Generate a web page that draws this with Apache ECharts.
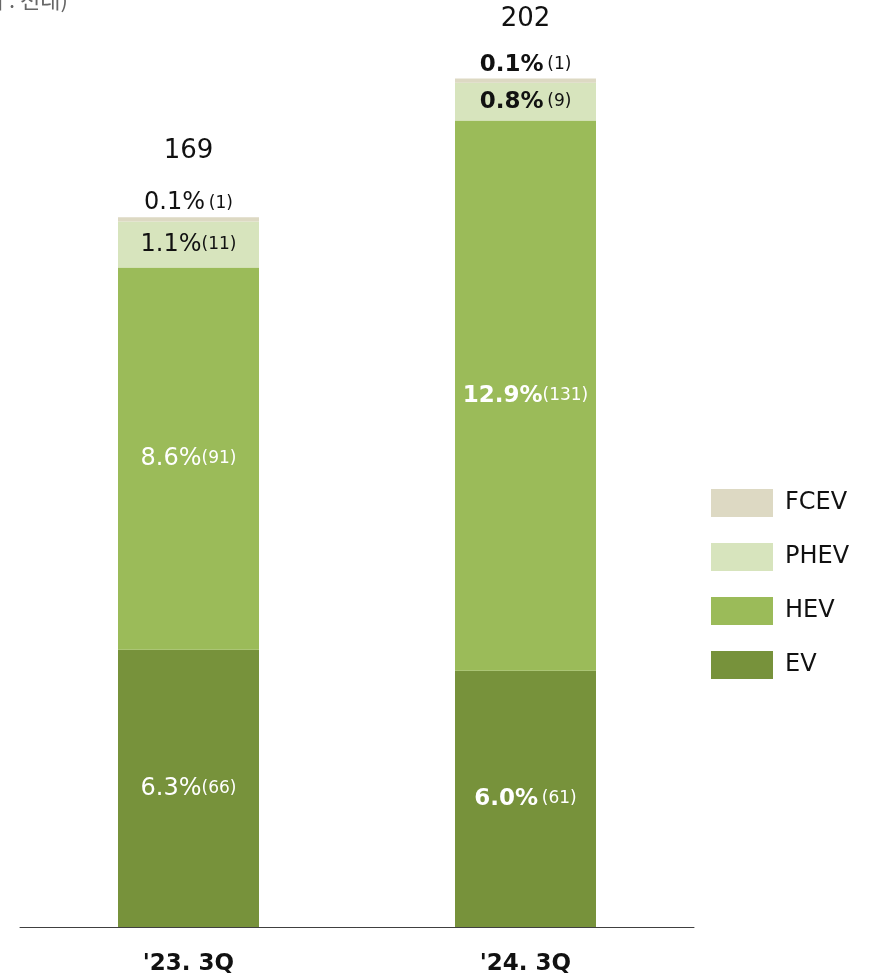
<!DOCTYPE html>
<html>
<head>
<meta charset="utf-8">
<script src="https://cdn.jsdelivr.net/npm/echarts@6/dist/echarts.min.js"></script>
<style>
  html, body { margin: 0; padding: 0; background: #fff; }
  #chart { width: 872px; height: 979px; }
</style>
</head>
<body>
<div id="chart"></div>
<script>
const categories = ["'23. 3Q", "'24. 3Q"]
const evVals = [66, 61]
const hevVals = [91, 131]
const phevVals = [11, 9]
const fcevVals = [1, 1]
const evPct = [6.3, 6.0]
const hevPct = [8.6, 12.9]
const phevPct = [1.1, 0.8]
const fcevPct = [0.1, 0.1]
// 퍼센트와 괄호 사이 간격
const evGap = ['', ' ']
const hevGap = ['', '']
const phevGap = ['', ' ']
const fcevGap = [' ', ' ']

const totals = categories.map((c, i) => evVals[i] + hevVals[i] + phevVals[i] + fcevVals[i])

const font = 'DejaVu Sans, Noto Sans CJK KR, sans-serif'

function makeRich(color) {
  return {
    n: { fontSize: 24, color: color, fontFamily: font, lineHeight: 26 },
    b: { fontSize: 23, color: color, fontFamily: font, fontWeight: 'bold', lineHeight: 26 },
    c: { fontSize: 17, color: color, fontFamily: font, lineHeight: 26 },
    t0: { fontSize: 26, color: '#111', fontFamily: font, lineHeight: 78 },
    t1: { fontSize: 26, color: '#111', fontFamily: font, lineHeight: 64 }
  }
}

function labelFn(pct, gap) {
  return function (p) {
    const k = p.dataIndex === 1 ? 'b' : 'n'
    return '{' + k + '|' + pct[p.dataIndex].toFixed(1) + '%}' + gap[p.dataIndex] + '{c|(' + p.value + ')}'
  }
}

const chart = echarts.init(document.getElementById('chart'))

const option = {
  animation: false,
  textStyle: { fontFamily: font },
  graphic: [
    {
      type: 'text',
      x: 68,
      y: 0,
      style: {
        text: '(단위 : 천대)',
        align: 'right',
        verticalAlign: 'middle',
        fontSize: 22,
        fill: '#666',
        fontFamily: 'Noto Sans CJK KR, sans-serif'
      }
    }
  ],
  legend: {
    data: ['FCEV', 'PHEV', 'HEV', 'EV'],
    orient: 'vertical',
    left: 706,
    top: 484,
    itemWidth: 62,
    itemHeight: 28,
    itemGap: 26,
    icon: 'rect',
    textStyle: {
      fontSize: 24,
      color: '#111',
      fontFamily: font,
      padding: [0, 0, 0, 7]
    }
  },
  grid: {
    left: 20,
    right: 178,
    top: 3,
    bottom: 52
  },
  xAxis: {
    type: 'category',
    data: categories,
    axisLine: { lineStyle: { color: '#404040', width: 1 } },
    axisTick: { show: false },
    axisLabel: {
      fontSize: 23,
      fontWeight: 'bold',
      color: '#111',
      margin: 26,
      fontFamily: font
    }
  },
  yAxis: {
    type: 'value',
    min: 0,
    max: 220,
    show: false,
    splitLine: { show: false }
  },
  series: [
    {
      name: 'EV',
      type: 'bar',
      stack: 'all',
      barWidth: 141,
      data: evVals,
      itemStyle: { color: '#77923b' },
      label: {
        show: true,
        position: 'inside',
        formatter: labelFn(evPct, evGap),
        rich: makeRich('#fff')
      }
    },
    {
      name: 'HEV',
      type: 'bar',
      stack: 'all',
      barWidth: 141,
      data: hevVals,
      itemStyle: { color: '#9bbb59' },
      label: {
        show: true,
        position: 'inside',
        formatter: labelFn(hevPct, hevGap),
        rich: makeRich('#fff')
      }
    },
    {
      name: 'PHEV',
      type: 'bar',
      stack: 'all',
      barWidth: 141,
      data: phevVals,
      itemStyle: { color: '#d7e4bd' },
      label: {
        show: true,
        position: 'inside',
        formatter: labelFn(phevPct, phevGap),
        rich: makeRich('#111')
      }
    },
    {
      name: 'FCEV',
      type: 'bar',
      stack: 'all',
      barWidth: 141,
      data: fcevVals,
      itemStyle: { color: '#ddd9c3' },
      label: {
        show: true,
        position: 'top',
        distance: 1,
        formatter: function (p) {
          const i = p.dataIndex
          const k = i === 1 ? 'b' : 'n'
          return '{t' + i + '|' + totals[i] + '}\n{' + k + '|' + fcevPct[i].toFixed(1) + '%}' + fcevGap[i] + '{c|(' + p.value + ')}'
        },
        rich: makeRich('#111')
      }
    }
  ]
}

chart.setOption(option)
</script>
</body>
</html>
